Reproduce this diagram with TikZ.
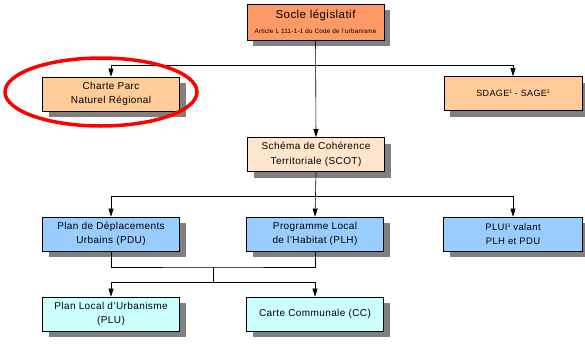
\documentclass[tikz,border=0pt]{standalone}
\usepackage{fontspec}
\setmainfont{Liberation Sans}[LetterSpace=4]
\usetikzlibrary{shadows,arrows.meta}
\definecolor{socle}{HTML}{FF9966}
\definecolor{peach}{HTML}{FFCC99}
\definecolor{peachlight}{HTML}{FFE5CC}
\definecolor{bluebox}{HTML}{99CCFF}
\definecolor{cyanbox}{HTML}{CCFFFF}
\definecolor{shadowgray}{HTML}{808080}
% small raised note number
\newcommand{\notenum}[1]{\raisebox{0.6ex}{\fontsize{5}{5}\selectfont #1}}
\begin{document}
\begin{tikzpicture}[x=1pt,y=-1pt,
  box/.style={draw=black, line width=0.7pt, minimum width=137pt, minimum height=34pt,
    align=center, inner sep=0pt, font=\fontsize{10}{14.5}\selectfont,
    drop shadow={shadow xshift=6pt, shadow yshift=-6pt, fill=shadowgray, opacity=1}},
  link/.style={draw=black, line width=0.6pt},
  arr/.style={link, -{Triangle[length=8pt,width=5pt]}},
  mark ring/.style={draw=red, line width=3.5pt}]
\useasboundingbox (0,0) rectangle (585,343);

% level 0
\node[box, fill=socle, minimum height=36pt] (socle) at (315.5,22)
  {{\fontsize{11.5}{13}\selectfont Socle législatif}\\[0pt]{\fontsize{6.3}{7}\selectfont Article L 111-1-1 du Code de l'urbanisme}};

% level 1
\node[box, fill=peach] (charte) at (111,94) {Charte Parc\\Naturel Régional};
\node[box, fill=peach, minimum width=138pt, font=\fontsize{9}{13}\selectfont] (sdage) at (513,93.5) {SDAGE\notenum{1} - SAGE\notenum{2}};

% level 2
\node[box, fill=peachlight] (scot) at (316,154.5) {Schéma de Cohérence\\Territoriale (SCOT)};

% level 3
\node[box, fill=bluebox] (pdu) at (111,234) {Plan de Déplacements\\Urbains (PDU)};
\node[box, fill=bluebox] (plh) at (315,234) {Programme Local\\de l'Habitat (PLH)};
\node[box, fill=bluebox, minimum width=139pt, font=\fontsize{9.5}{14}\selectfont] (plui) at (513,234) {PLUI\notenum{3} valant\\PLH et PDU};

% level 4
\node[box, fill=cyanbox] (plu) at (111,314) {Plan Local d'Urbanisme\\(PLU)};
\node[box, fill=cyanbox] (cc) at (315,314) {Carte Communale (CC)};

% branch points
\coordinate (b1) at (315.5,65);
\coordinate (b2) at (316,196);
\coordinate (j1) at (213,267);
\coordinate (j2) at (213,282);

% connectors
\draw[arr] (socle.south) -- (scot.north);
\draw[arr] (b1) -| (charte.north);
\draw[arr] (b1) -| (sdage.north);

\draw[arr] (scot.south) -- (plh.north);
\draw[arr] (b2) -| (pdu.north);
\draw[arr] (b2) -| (plui.north);

\draw[link] (pdu.south) |- (j1) -| (plh.south);
\draw[link] (j1) -- (j2);
\draw[arr] (j2) -| (plu.north);
\draw[arr] (j2) -| (cc.north);

% highlight ring
\draw[mark ring] (101,92) ellipse [x radius=96, y radius=34];
\end{tikzpicture}
\end{document}
